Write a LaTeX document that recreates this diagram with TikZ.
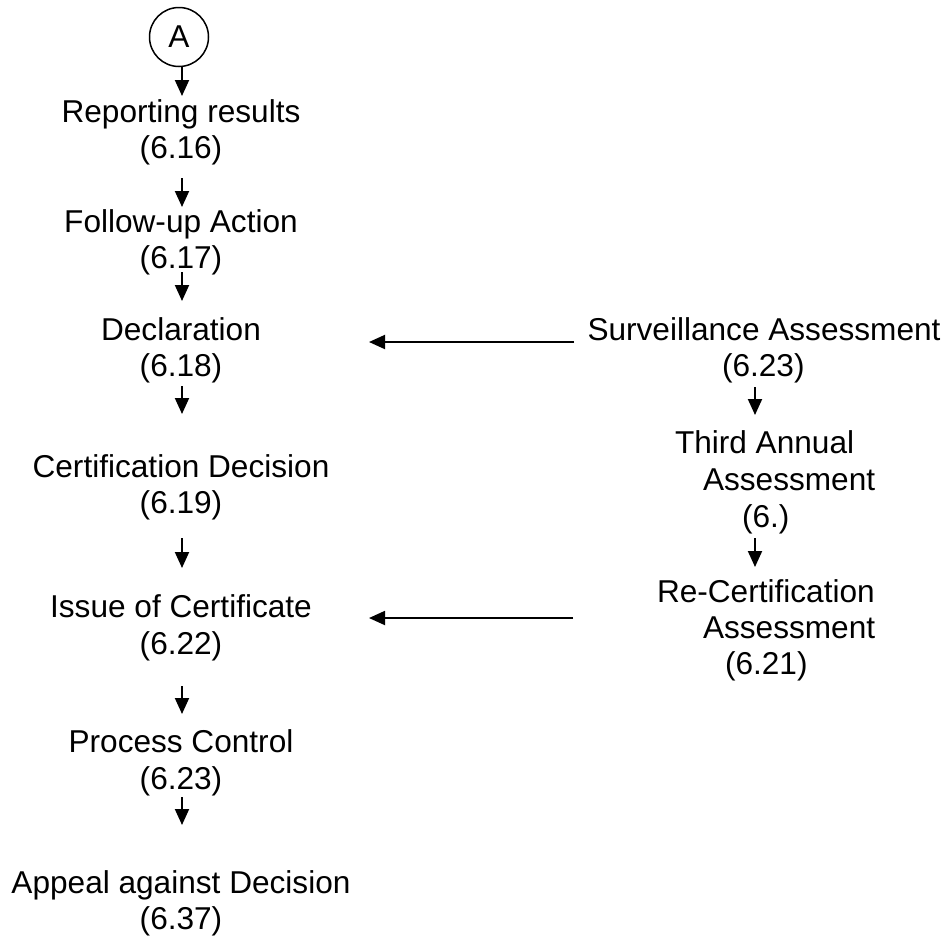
\documentclass[tikz,border=0pt]{standalone}
\usepackage{fontspec}
\setmainfont{Liberation Sans}
\usetikzlibrary{arrows.meta}
\begin{document}
\begin{tikzpicture}[x=1pt,y=-1pt,
  txt/.style={inner sep=0pt, outer sep=0pt, anchor=base, font=\fontsize{31.6}{37}\selectfont},
  ltxt/.style={txt, anchor=base west},
  arr/.style={line width=1.9pt, -{Triangle[length=16pt,width=14pt]}}]
\useasboundingbox (0,0) rectangle (947,938);

% circle connector
\node[draw, circle, line width=1.5pt, minimum size=59pt, inner sep=0pt, font=\fontsize{31.6}{37}\selectfont] (A) at (179,37) {A};

% left column
\node[txt] (rep)  at (181,122) {Reporting results};
\node[txt] (rep2) at (181,158) {(6.16)};
\node[txt] (fol)  at (181,232) {Follow-up Action};
\node[txt] (fol2) at (181,268) {(6.17)};
\node[txt] (dec)  at (181,340) {Declaration};
\node[txt] (dec2) at (181,376) {(6.18)};
\node[txt] (cer)  at (181,477) {Certification Decision};
\node[txt] (cer2) at (181,513) {(6.19)};
\node[txt] (iss)  at (181,617) {Issue of Certificate};
\node[txt] (iss2) at (181,654) {(6.22)};
\node[txt] (pro)  at (181,752) {Process Control};
\node[txt] (pro2) at (181,789) {(6.23)};
\node[txt] (app)  at (181,893) {Appeal against Decision};
\node[txt] (app2) at (181,929) {(6.37)};

% right column
\node[txt] (sur)  at (764,340) {Surveillance Assessment};
\node[ltxt] (sur2) at (722,376) {(6.23)};
\node[ltxt] (thi)  at (675,453) {Third Annual};
\node[ltxt] (thi2) at (703,490) {Assessment};
\node[ltxt] (thi3) at (742,527) {(6.)};
\node[ltxt] (rec)  at (657,602) {Re-Certification};
\node[ltxt] (rec2) at (703,638) {Assessment};
\node[ltxt] (rec3) at (725,674) {(6.21)};

% arrow end points
\coordinate (a1s) at (182,67);  \coordinate (a1e) at (182,96);
\coordinate (a2s) at (182,178); \coordinate (a2e) at (182,207);
\coordinate (a3s) at (182,272); \coordinate (a3e) at (182,301);
\coordinate (a4s) at (182,386); \coordinate (a4e) at (182,414);
\coordinate (a5s) at (182,538); \coordinate (a5e) at (182,568);
\coordinate (a6s) at (182,686); \coordinate (a6e) at (182,714);
\coordinate (a7s) at (182,797); \coordinate (a7e) at (182,825);
\coordinate (b1s) at (755,387); \coordinate (b1e) at (755,415);
\coordinate (b2s) at (755,538); \coordinate (b2e) at (755,567);
\coordinate (h1s) at (574,342); \coordinate (h1e) at (369,342);
\coordinate (h2s) at (573,618); \coordinate (h2e) at (369,618);

\draw[arr] (a1s) -- (a1e);
\draw[arr] (a2s) -- (a2e);
\draw[arr] (a3s) -- (a3e);
\draw[arr] (a4s) -- (a4e);
\draw[arr] (a5s) -- (a5e);
\draw[arr] (a6s) -- (a6e);
\draw[arr] (a7s) -- (a7e);
\draw[arr] (b1s) -- (b1e);
\draw[arr] (b2s) -- (b2e);
\draw[arr] (h1s) -- (h1e);
\draw[arr] (h2s) -- (h2e);
\end{tikzpicture}
\end{document}
